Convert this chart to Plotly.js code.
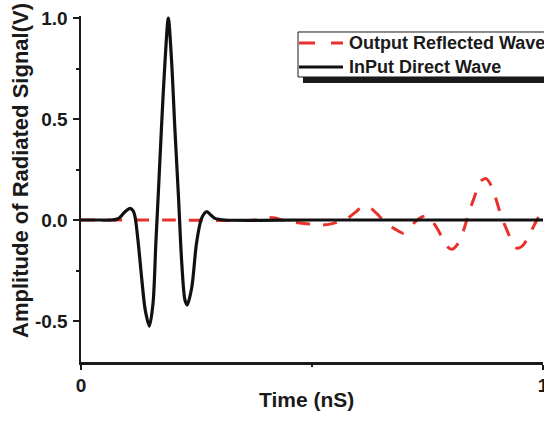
<!DOCTYPE html>
<html>
<head>
<meta charset="utf-8">
<script src="https://cdn.plot.ly/plotly-3.0.1.min.js"></script>
<style>html,body{margin:0;padding:0;background:#fff;}#chart{width:544px;height:422px;}</style>
</head>
<body>
<div id="chart"></div>
<script>
// Input direct wave (black solid)
const directTime = [0, 0.041, 0.067, 0.076, 0.084, 0.095, 0.106, 0.113, 0.117, 0.124, 0.131, 0.139, 0.148, 0.156, 0.162, 0.167, 0.175, 0.182, 0.189, 0.196, 0.203, 0.211, 0.218, 0.225, 0.230, 0.240, 0.250, 0.261, 0.272, 0.281, 0.290, 0.312, 0.5, 0.75, 1.0];
const directAmp  = [0, 0, 0, 0.003, 0.012, 0.04, 0.058, 0.045, 0.016, -0.115, -0.28, -0.445, -0.525, -0.41, -0.115, 0.115, 0.495, 0.79, 1.0, 0.79, 0.46, 0.115, -0.21, -0.396, -0.42, -0.33, -0.115, 0.008, 0.041, 0.025, 0.008, 0, 0, 0, 0];

// Output reflected wave (red dashed)
const reflTime = [0, 0.2, 0.377, 0.400, 0.420, 0.442, 0.463, 0.496, 0.528, 0.556, 0.578, 0.595, 0.608, 0.626, 0.641, 0.658, 0.680, 0.697, 0.708, 0.723, 0.738, 0.751, 0.762, 0.773, 0.792, 0.803, 0.818, 0.829, 0.840, 0.851, 0.864, 0.877, 0.890, 0.900, 0.911, 0.922, 0.933, 0.944, 0.957, 0.972, 0.987, 1.0];
const reflAmp  = [0, 0, 0, 0.013, 0.01, -0.005, -0.012, -0.02, -0.024, -0.01, 0.01, 0.04, 0.065, 0.06, 0.03, -0.01, -0.045, -0.065, -0.05, -0.01, 0.015, 0.02, -0.01, -0.05, -0.13, -0.145, -0.11, -0.045, 0.04, 0.11, 0.19, 0.205, 0.16, 0.09, 0.01, -0.05, -0.11, -0.14, -0.125, -0.065, 0.0, 0.05];

const seriesNames = ['Output Reflected Wave', 'InPut Direct Wave'];
const seriesColors = ['#e8312a', '#111111'];
const xTickVals = [0, 1];
const xTickLabels = ['0', '1'];
const yTickVals = [-0.5, 0, 0.5, 1.0];
const yTickLabels = ['-0.5', '0.0', '0.5', '1.0'];
const xTitle = 'Time (nS)';
const yTitle = 'Amplitude of Radiated Signal(V)';

const FONT = 'Arial, "Liberation Sans", Helvetica, sans-serif';
const bold = s => '<b>' + s + '</b>';

const traces = [
  {
    x: reflTime, y: reflAmp, type: 'scatter', mode: 'lines', name: seriesNames[0],
    line: {color: seriesColors[0], width: 3, dash: '14px,13px', shape: 'spline', smoothing: 0.8}
  },
  {
    x: directTime, y: directAmp, type: 'scatter', mode: 'lines', name: seriesNames[1],
    line: {color: seriesColors[1], width: 3.2, shape: 'spline', smoothing: 0.8}
  }
];

// manual legend geometry (paper coords)
const lgX0 = 0.4697, lgY0 = 0.8237, lgY1 = 0.9538;
const rowY = [0.922, 0.8526];
const sampleX0 = 0.4719, sampleX1 = 0.5671, textX = 0.5758;

const shapes = [
  {type: 'rect', xref: 'paper', yref: 'paper', x0: 0.4805, x1: 1.2, y0: 0.8064, y1: lgY0,
   fillcolor: '#1a1a1a', line: {width: 0}, layer: 'above'},
  {type: 'rect', xref: 'paper', yref: 'paper', x0: lgX0, x1: 1.2, y0: lgY0, y1: lgY1,
   fillcolor: '#ffffff', line: {width: 1, color: '#1a1a1a'}, layer: 'above'},
  {type: 'line', xref: 'paper', yref: 'paper', x0: sampleX0, x1: sampleX1, y0: rowY[0], y1: rowY[0],
   line: {color: seriesColors[0], width: 3, dash: '16px,16px'}, layer: 'above'},
  {type: 'line', xref: 'paper', yref: 'paper', x0: sampleX0, x1: sampleX1, y0: rowY[1], y1: rowY[1],
   line: {color: seriesColors[1], width: 3}, layer: 'above'}
];

const annotations = [
  {text: bold(yTitle), xref: 'paper', yref: 'paper', x: -0.13, y: 0.555,
   xanchor: 'center', yanchor: 'middle', textangle: -90, showarrow: false,
   font: {family: FONT, size: 22, color: '#1a1a1a'}},
  {text: bold(xTitle), xref: 'paper', yref: 'paper', x: 0.488, y: -0.107,
   xanchor: 'center', yanchor: 'middle', showarrow: false,
   font: {family: FONT, size: 21, color: '#1a1a1a'}}
];
seriesNames.forEach((n, i) => annotations.push({
  text: bold(n), xref: 'paper', yref: 'paper', x: textX, y: rowY[i],
  xanchor: 'left', yanchor: 'middle', showarrow: false,
  font: {family: FONT, size: 18, color: '#1a1a1a'}
}));

const layout = {
  width: 544, height: 422,
  margin: {l: 81, r: 1, t: 16, b: 60, autoexpand: false},
  paper_bgcolor: '#ffffff', plot_bgcolor: '#ffffff',
  showlegend: false,
  font: {family: FONT, color: '#1a1a1a'},
  xaxis: {
    range: [0, 1], tickmode: 'array', tickvals: xTickVals, ticktext: xTickLabels.map(bold),
    showgrid: false, zeroline: false,
    showline: true, linecolor: '#1a1a1a', linewidth: 2.5,
    ticks: 'outside', ticklen: 5, tickwidth: 2.5, tickcolor: '#1a1a1a',
    minor: {tickmode: 'linear', tick0: 0, dtick: 0.5, ticks: 'outside', ticklen: 2, tickwidth: 2, tickcolor: '#1a1a1a', showgrid: false},
    tickfont: {family: FONT, size: 19, color: '#1a1a1a', weight: 'bold'},
    ticklabeloverflow: 'allow',
    automargin: false
  },
  yaxis: {
    range: [-0.703, 1.01], tickmode: 'array', tickvals: yTickVals, ticktext: yTickLabels.map(bold),
    showgrid: false, zeroline: false,
    showline: true, linecolor: '#1a1a1a', linewidth: 2.5,
    ticks: 'outside', ticklen: 6, tickwidth: 2.5, tickcolor: '#1a1a1a',
    minor: {tickmode: 'linear', tick0: 0, dtick: 0.25, ticks: 'outside', ticklen: 3, tickwidth: 2, tickcolor: '#1a1a1a', showgrid: false},
    tickfont: {family: FONT, size: 19, color: '#1a1a1a', weight: 'bold'},
    ticklabelstandoff: 1,
    ticklabeloverflow: 'allow',
    automargin: false
  },
  shapes: shapes,
  annotations: annotations
};

Plotly.newPlot('chart', traces, layout, {displayModeBar: false, staticPlot: true});
</script>
</body>
</html>
